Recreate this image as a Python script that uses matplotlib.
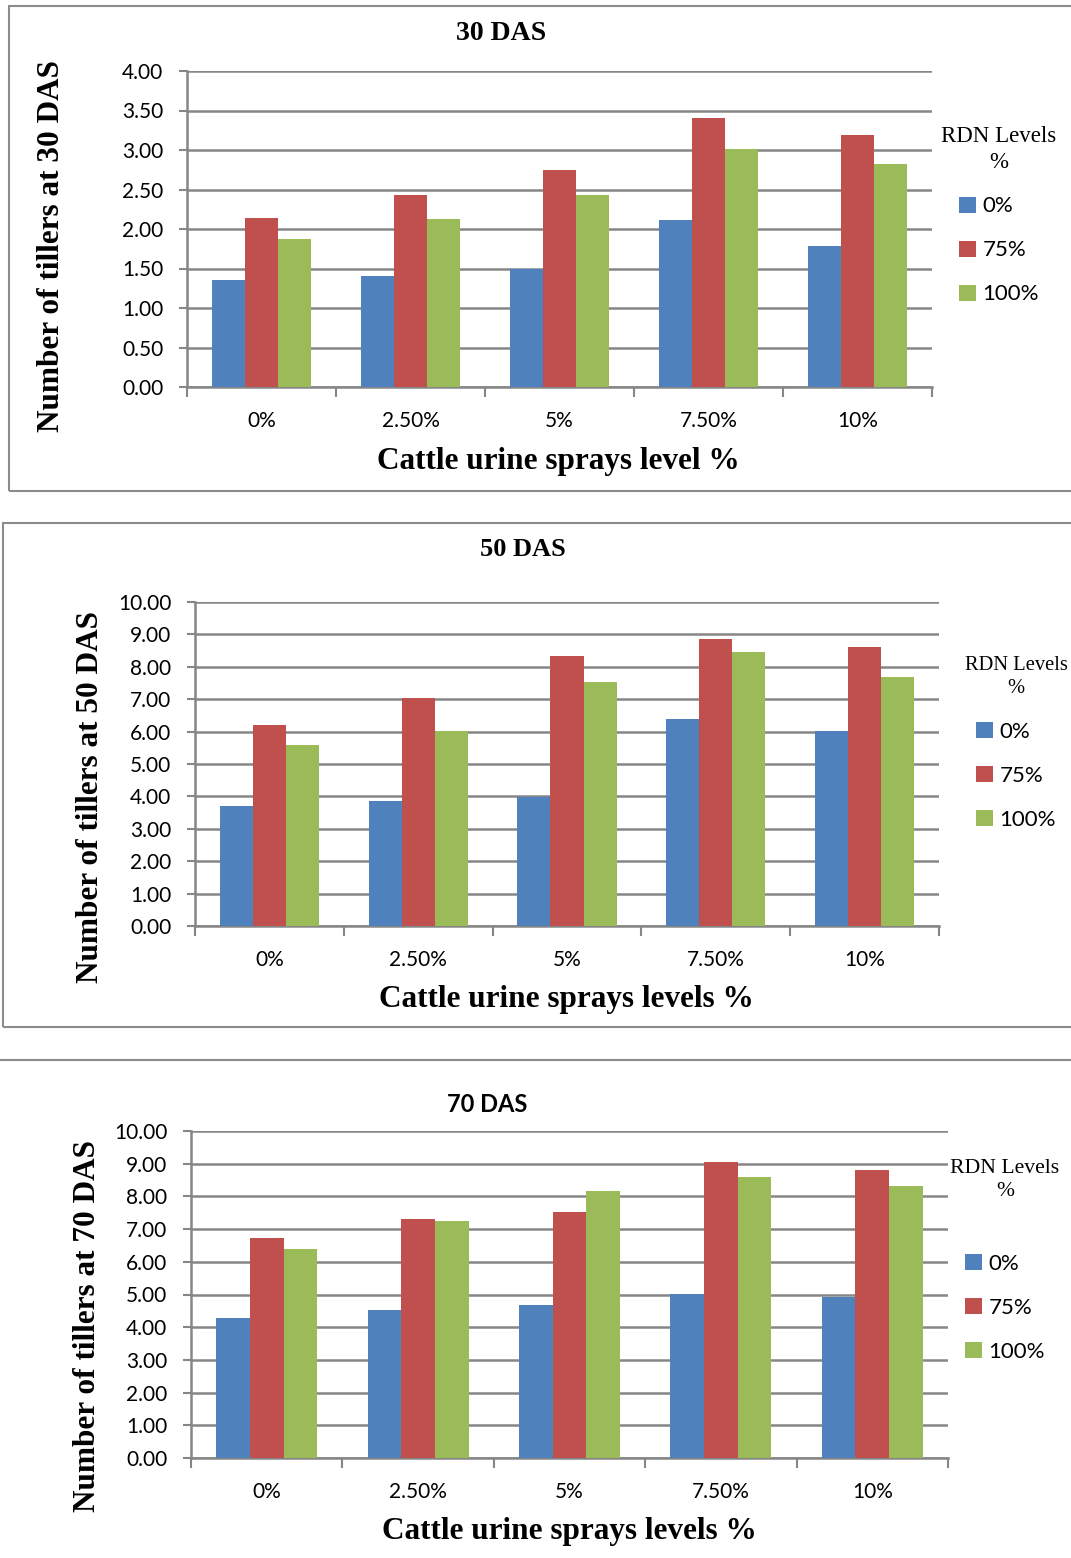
import matplotlib.pyplot as plt
from matplotlib.patches import Rectangle, Patch
from matplotlib.lines import Line2D
import numpy as np

W, H = 1071, 1558

# data
cats = ['0%', '2.50%', '5%', '7.50%', '10%']
rdn_levels = ['0%', '75%', '100%']
das30_0 = [1.36, 1.41, 1.49, 2.11, 1.78]
das30_75 = [2.14, 2.43, 2.75, 3.40, 3.19]
das30_100 = [1.87, 2.13, 2.43, 3.01, 2.82]
das50_0 = [3.70, 3.87, 3.98, 6.38, 6.02]
das50_75 = [6.20, 7.05, 8.32, 8.86, 8.60]
das50_100 = [5.58, 6.02, 7.52, 8.46, 7.69]
das70_0 = [4.28, 4.52, 4.68, 5.02, 4.91]
das70_75 = [6.72, 7.30, 7.52, 9.06, 8.80]
das70_100 = [6.39, 7.26, 8.15, 8.58, 8.33]

colors = ['#4F81BD', '#C0504D', '#9BBB59']
grid_c = '#868686'
serif = ['Liberation Serif', 'DejaVu Serif']
sans = ['Lato', 'DejaVu Sans']

fig = plt.figure(figsize=(W / 100, H / 100), dpi=100)


def fx(x):
    return x / W


def fy(y):
    return 1 - y / H


def panel(box, series, ymax, ystep, title, tfont, tpos, ylab, ylpos, xlab, xlpos, legpos, legfs, legsep):
    l, t, r, b = box
    ax = fig.add_axes([fx(l), fy(b), fx(r) - fx(l), fy(t) - fy(b)])
    x = np.arange(len(cats))
    w = 0.222
    for i, s in enumerate(series):
        ax.bar(x + (i - 1) * w, s, w, color=colors[i], edgecolor='none', zorder=3)
    ax.set_xlim(-0.5, len(cats) - 0.5)
    ax.set_ylim(0, ymax)
    yt = np.arange(0, ymax + ystep / 2, ystep)
    ax.set_yticks(yt)
    ax.set_yticklabels(['%.2f' % v for v in yt], fontsize=15, family=sans)
    ax.set_xticks(x)
    ax.set_xticklabels(cats, fontsize=15, family=sans)
    ax.set_xticks(np.arange(-0.5, len(cats)), minor=True)
    ax.tick_params(axis='x', which='major', length=0, pad=17)
    ax.tick_params(axis='x', which='minor', length=7, width=1.5, color=grid_c, direction='out')
    ax.tick_params(axis='y', length=6, width=1.5, color=grid_c, direction='out', pad=11)
    ax.grid(axis='y', color=grid_c, linewidth=1.8, zorder=0)
    for sp in ['top', 'right']:
        ax.spines[sp].set_visible(False)
    for sp in ['left', 'bottom']:
        ax.spines[sp].set_color(grid_c)
        ax.spines[sp].set_linewidth(1.8)
    fig.text(fx(tpos[0]), fy(tpos[1]), title, ha='center', va='center', **tfont)
    fig.text(fx(ylpos[0]), fy(ylpos[1]), ylab, ha='center', va='center', rotation=90,
             fontsize=22.5, fontweight='bold', family=serif)
    fig.text(fx(xlpos[0]), fy(xlpos[1]), xlab, ha='center', va='center',
             fontsize=22.5, fontweight='bold', family=serif)
    handles = [Patch(facecolor=c, edgecolor='none') for c in colors]
    leg = ax.legend(handles, rdn_levels, loc='upper center', bbox_to_anchor=(fx(legpos[0]), fy(legpos[1])),
                    bbox_transform=fig.transFigure, frameon=False, title='RDN Levels\n%',
                    prop={'family': sans, 'size': 16}, handlelength=0.75, handleheight=0.75,
                    handletextpad=0.3, labelspacing=1.08, borderpad=0, borderaxespad=0,
                    alignment='center')
    leg.get_title().set_family(serif)
    leg.get_title().set_fontsize(legfs)
    leg.get_title().set_multialignment('center')
    leg.get_title().set_linespacing(1.3)
    leg._legend_box.sep = legsep
    return ax


# panel frames
fig.patches.append(Rectangle((fx(9), fy(491)), fx(1075) - fx(9), fy(6) - fy(491),
                             transform=fig.transFigure, fill=False, edgecolor='#8c8c8c', linewidth=1.5))
fig.patches.append(Rectangle((fx(3), fy(1027)), fx(1075) - fx(3), fy(523) - fy(1027),
                             transform=fig.transFigure, fill=False, edgecolor='#8c8c8c', linewidth=1.5))
fig.lines.append(Line2D([0, 1], [fy(1060), fy(1060)], transform=fig.transFigure,
                        color='#8c8c8c', linewidth=1.5))

panel((187, 71, 932, 387), [das30_0, das30_75, das30_100], 4.0, 0.5,
      '30 DAS', dict(fontsize=20, fontweight='bold', family=serif), (501, 33),
      'Number of tillers at 30 DAS', (52, 246),
      'Cattle urine sprays level %', (558, 461), (999, 126), 16.5, 17)

panel((195, 602, 939, 926), [das50_0, das50_75, das50_100], 10.0, 1.0,
      '50 DAS', dict(fontsize=19, fontweight='bold', family=serif), (523, 550),
      'Number of tillers at 50 DAS', (90, 797),
      'Cattle urine sprays levels %', (566, 1000), (1016, 656), 14.8, 17)

panel((191, 1131, 948, 1458), [das70_0, das70_75, das70_100], 10.0, 1.0,
      '70 DAS', dict(fontsize=17, fontweight='bold', family=['Liberation Sans Narrow', 'Lato']), (487, 1105),
      'Number of tillers at 70 DAS', (88, 1326),
      'Cattle urine sprays levels %', (569, 1532), (1005, 1159), 15.6, 38)

fig.savefig('out.png', dpi=100)
